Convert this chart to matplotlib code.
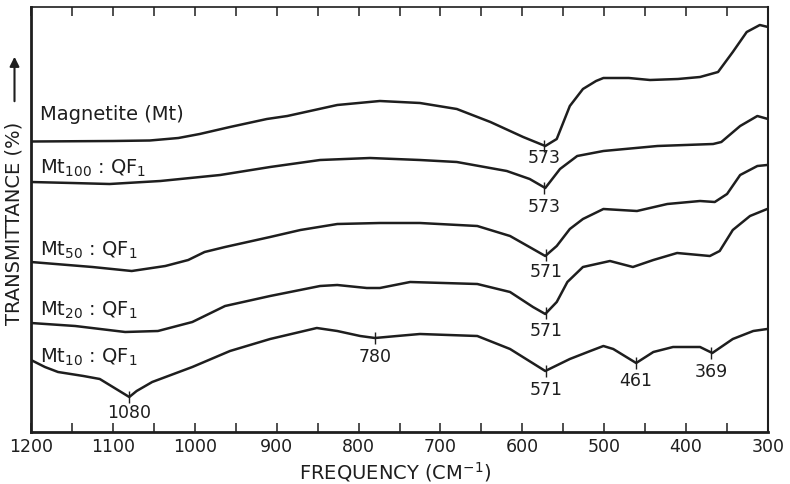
import numpy as np
import matplotlib
matplotlib.use('Agg')
import matplotlib.pyplot as plt
from matplotlib.ticker import MultipleLocator

plt.rcParams['font.family'] = ['DejaVu Sans']
plt.rcParams['mathtext.default'] = 'regular'

# IR traces: frequency (cm-1) and trace height
# (given as row position on the page, larger = lower transmittance)
mag_freq = [1200, 1100, 1055, 1020, 994, 957, 912, 887, 826, 774, 725, 680, 639, 599,
            572, 558, 542, 526, 510, 501, 470, 444, 410, 383, 361, 343, 326, 310, 300]
mag_row = [142.5, 142, 141.5, 139, 135, 128, 120, 117, 106, 102, 104, 110, 123, 138,
           147, 140, 107, 90, 82, 79, 79, 81, 80, 78, 73, 53, 33, 26, 28]

mt100_freq = [1200, 1150, 1104, 1042, 969, 908, 847, 786, 725, 680, 619, 591, 572,
              554, 533, 501, 435, 367, 357, 334, 313, 300]
mt100_row = [183, 184, 185, 182, 176, 168, 161, 159, 161, 163, 172, 180, 189,
             170, 157, 152, 147, 145, 143, 127, 117, 120]

mt50_freq = [1200, 1125, 1077, 1036, 1008, 988, 963, 908, 871, 826, 774, 725, 655, 615,
             587, 572, 558, 542, 526, 501, 460, 423, 383, 365, 350, 334, 313, 301]
mt50_row = [263, 268, 272, 267, 261, 253, 248, 238, 231, 225, 224, 224, 227, 237,
            250, 257, 247, 230, 220, 210, 212, 205, 202, 203, 195, 176, 167, 166]

mt20_freq = [1200, 1146, 1085, 1045, 1003, 963, 908, 847, 826, 790, 774, 737, 655, 615,
             587, 572, 558, 545, 526, 493, 465, 440, 411, 371, 359, 343, 322, 301]
mt20_row = [324, 327, 333, 332, 323, 307, 297, 287, 286, 289, 289, 283, 285, 293,
            308, 315, 303, 283, 268, 262, 268, 261, 254, 257, 252, 231, 217, 210]

mt10_freq = [1200, 1183, 1167, 1136, 1116, 1104, 1080, 1071, 1052, 1003, 957, 908, 851,
             826, 798, 780, 753, 725, 655, 615, 572, 542, 517, 501, 489, 461, 440, 416,
             383, 368, 343, 318, 301]
mt10_row = [361, 368, 373, 377, 380, 386, 398, 392, 383, 368, 352, 340, 329,
            332, 337, 339, 337, 335, 337, 350, 372, 360, 352, 347, 350, 364, 353, 348,
            348, 354, 340, 332, 330]

names = ['Magnetite (Mt)', r'Mt$_{100}$ : QF$_{1}$', r'Mt$_{50}$ : QF$_{1}$',
         r'Mt$_{20}$ : QF$_{1}$', r'Mt$_{10}$ : QF$_{1}$']
name_rows = [115, 168, 250, 310, 357]

# marked bands: (curve index, frequency)
peak_curve = [0, 1, 2, 3, 4, 4, 4, 4, 4]
peak_freq = [573, 573, 571, 571, 571, 461, 369, 780, 1080]
peak_drop = [8, 13.5, 11.5, 12, 13, 12, 13, 13, 11]   # label offset below band, pt

traces = [(mag_freq, mag_row), (mt100_freq, mt100_row), (mt50_freq, mt50_row),
          (mt20_freq, mt20_row), (mt10_freq, mt10_row)]

ink = '#1e1e1e'

fig = plt.figure(figsize=(7.9, 4.85), dpi=100)
ax = fig.add_axes([31/790., 1-433/485., 737/790., 425/485.])

for (f, r), name, nr in zip(traces, names, name_rows):
    ax.plot(f, r, color=ink, lw=1.8, solid_joinstyle='round', solid_capstyle='round')
    ax.text(1189, nr, name, fontsize=14, color=ink, ha='left', va='center')

for c, pf, dy in zip(peak_curve, peak_freq, peak_drop):
    f, r = traces[c]
    y = np.interp(pf, f[::-1], r[::-1])
    ax.plot([pf], [y], marker='|', ms=9, mew=1.0, color=ink)
    ax.annotate(str(pf), xy=(pf, y), xytext=(0, -dy), textcoords='offset points',
                ha='center', va='center', fontsize=12.5, color=ink)

ax.set_xlim(1200, 300)
ax.set_ylim(433, 8)
ax.set_yticks([])
ax.xaxis.set_major_locator(MultipleLocator(100))
ax.xaxis.set_minor_locator(MultipleLocator(50))
ax.tick_params(axis='x', which='both', direction='in', top=True, length=6.5,
               width=1.1, color=ink)
ax.tick_params(axis='x', which='major', labelsize=12.5, pad=3.5, labelcolor=ink)

for side, w in [('left', 2.0), ('bottom', 2.0), ('top', 1.2), ('right', 1.5)]:
    ax.spines[side].set_linewidth(w)
    ax.spines[side].set_color(ink)

fig.text(395/790., 1-472/485., 'FREQUENCY (CM$^{-1}$)', ha='center', va='center',
         fontsize=14, color=ink)
fig.text(14.5/790., 1-223/485., 'TRANSMITTANCE (%)', rotation=90, ha='center',
         va='center', fontsize=14, color=ink)
ax.annotate('', xy=(14.5/790., 1-55/485.), xytext=(14.5/790., 1-105/485.),
            xycoords='figure fraction', textcoords='figure fraction',
            arrowprops=dict(arrowstyle='-|>', lw=1.5, color=ink, mutation_scale=14),
            annotation_clip=False)

fig.savefig('out.png', dpi=100, facecolor='w')
